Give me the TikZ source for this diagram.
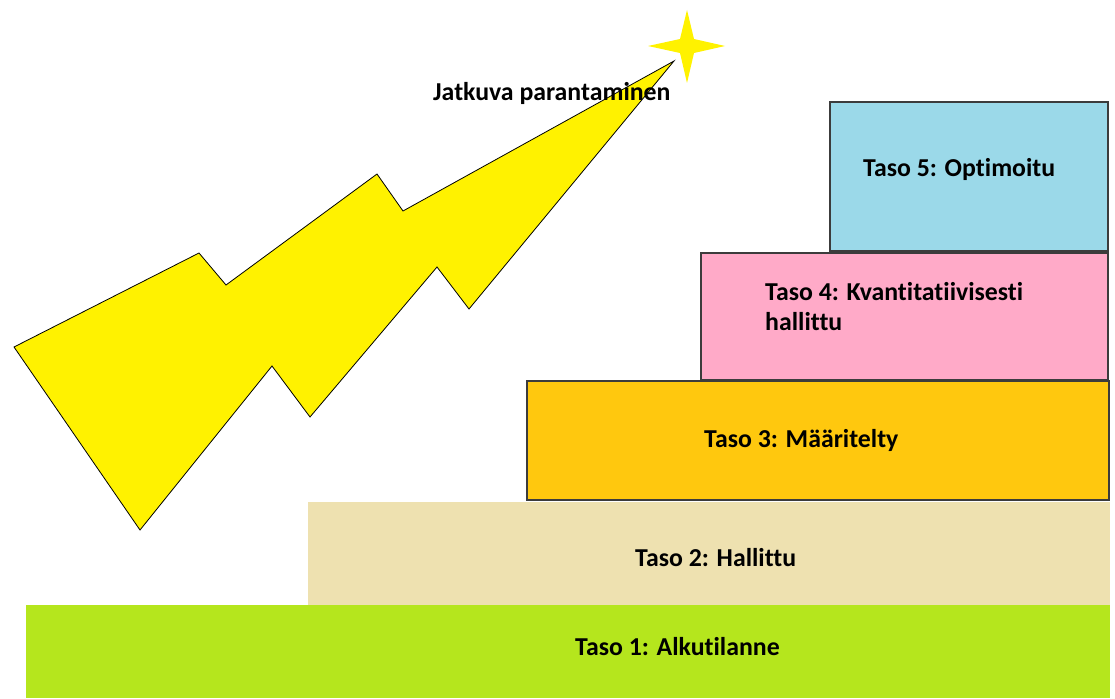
\documentclass[tikz,border=0pt]{standalone}
\usepackage{fontspec}
\setmainfont{Carlito}[Ligatures={NoCommon}]
\definecolor{cblue}{RGB}{155,217,233}
\definecolor{cpink}{RGB}{255,170,200}
\definecolor{corange}{RGB}{255,200,14}
\definecolor{cbeige}{RGB}{238,225,176}
\definecolor{cgreen}{RGB}{181,230,29}
\definecolor{cyellow}{RGB}{255,242,0}
\definecolor{cedge}{RGB}{60,60,60}
\begin{document}
\begin{tikzpicture}[x=1pt,y=-1pt,
  box/.style={draw=cedge,line width=1.5pt,inner sep=0pt,outer sep=0pt},
  flatbox/.style={draw=none,inner sep=0pt,outer sep=0pt},
  lbl/.style={anchor=base west,inner sep=0pt,font=\fontsize{25.8}{30}\selectfont\bfseries,align=left}]
\useasboundingbox (0,0) rectangle (1115,698);
% steps
\node[flatbox,fill=cgreen,minimum width=1084pt,minimum height=93pt] (t1) at (568,651.5) {};
\node[flatbox,fill=cbeige,minimum width=802pt,minimum height=103pt] (t2) at (709,553.5) {};
\node[box,fill=corange,minimum width=582pt,minimum height=119pt] (t3) at (818,440.5) {};
\node[box,fill=cpink,minimum width=407pt,minimum height=127pt] (t4) at (904.5,316.5) {};
\node[box,fill=cblue,minimum width=278pt,minimum height=149pt] (t5) at (969,176.5) {};
% lightning bolt
\draw[fill=cyellow,draw=black,line width=0.8pt,line join=miter]
  (14,347) -- (199,253) -- (226,285) -- (377,174) -- (403,211) -- (674,61)
  -- (469,309) -- (437,267) -- (310,417) -- (272,366) -- (140,530) -- cycle;
% star
\fill[cyellow] (687,10) -- (694,39) -- (725,46) -- (694,53) -- (687,83)
  -- (680,53) -- (648,46) -- (680,39) -- cycle;
% labels
\node[lbl] (l1) at (575,655) {Taso 1: Alkutilanne};
\node[lbl] (l2) at (635,566) {Taso 2: Hallittu};
\node[lbl] (l3) at (704,447) {Taso 3: Määritelty};
\node[lbl] (l4) at (765,330) {Taso 4: Kvantitatiivisesti\\hallittu};
\node[lbl] (l5) at (863,176) {Taso 5: Optimoitu};
\node[lbl] (lj) at (433,101) {Jatkuva parantaminen};
\end{tikzpicture}
\end{document}
